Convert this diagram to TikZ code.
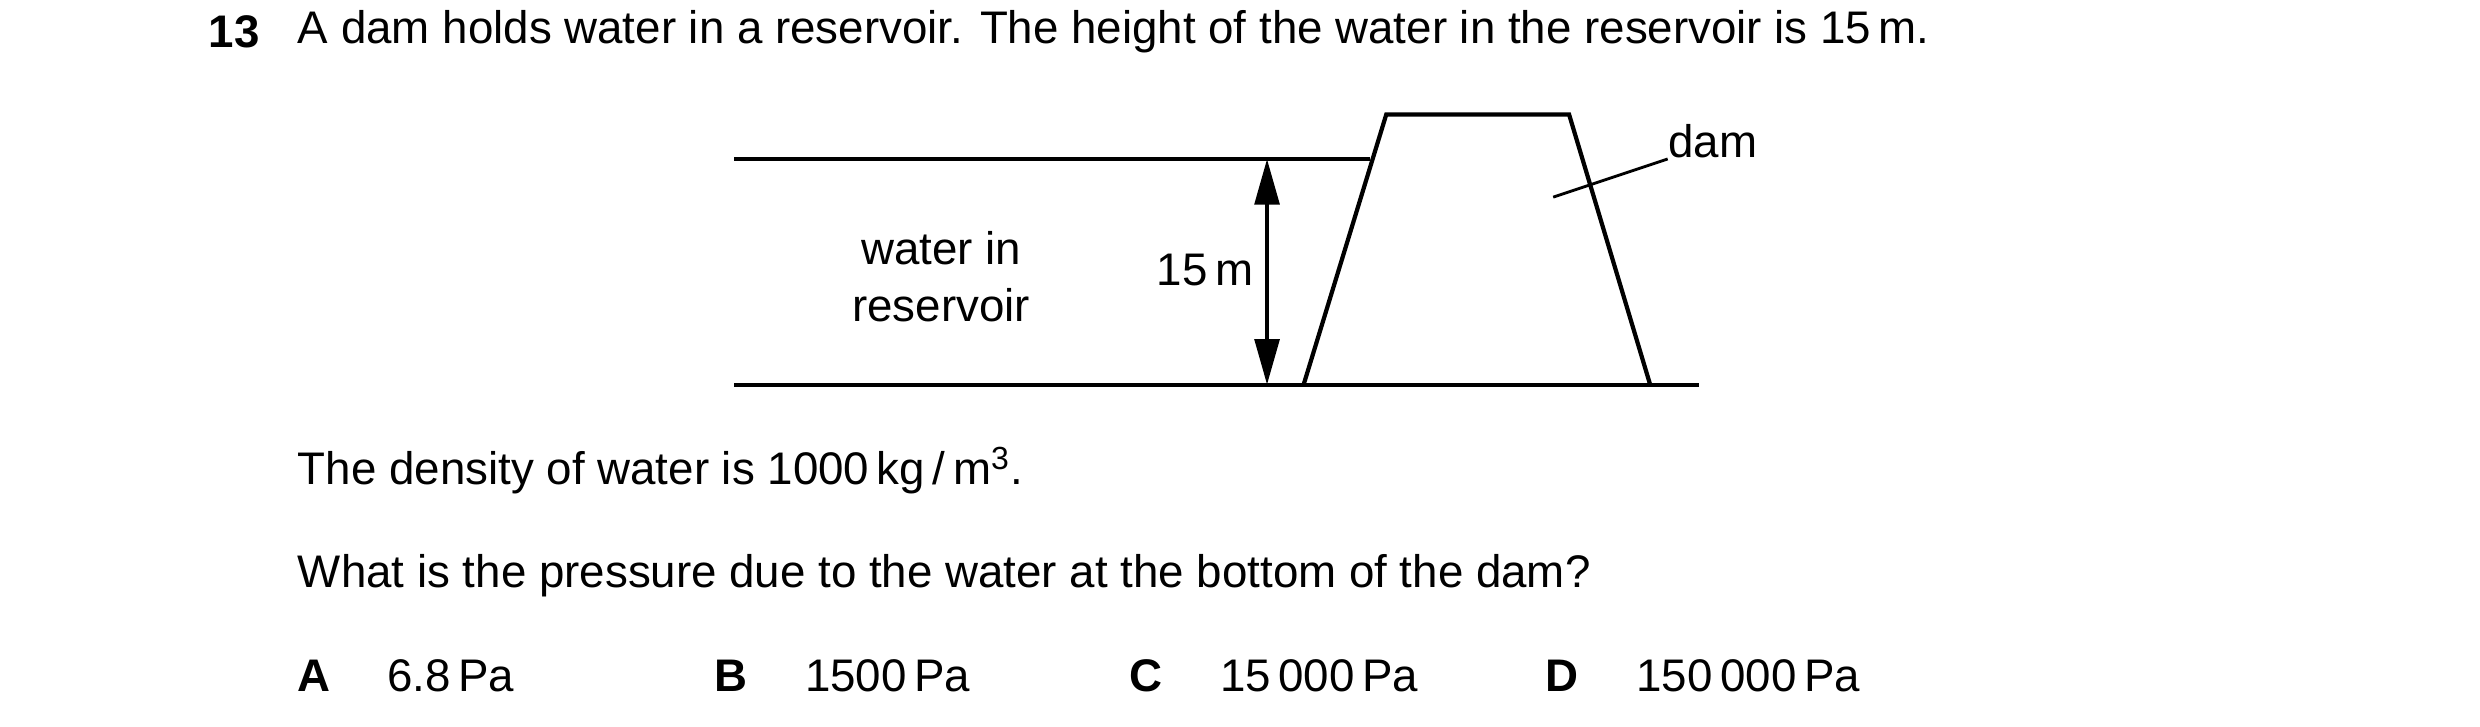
\documentclass[tikz,border=0pt]{standalone}
\usepackage{fontspec}
\setmainfont{Liberation Sans}
\usetikzlibrary{arrows.meta}
\begin{document}
\begin{tikzpicture}[x=0.015897cm,y=-0.015897cm,
  txt/.style={anchor=west,inner sep=0pt,font=\fontsize{13}{15}\selectfont},
  ln/.style={line width=1.2pt},
  lab/.style={inner sep=0pt,font=\fontsize{13}{15}\selectfont,align=center}]
\useasboundingbox (0,0) rectangle (1560,457.3);
\node[txt,font=\fontsize{13}{15}\selectfont\bfseries] (q) at (131,20) {13};
\node[txt] (t1) at (187,20) {A dam holds water in a reservoir. The height of the water in the reservoir is 15\,m.};
\coordinate (s1) at (462,100); \coordinate (s2) at (862,100);
\coordinate (g1) at (462,242); \coordinate (g2) at (1069,242);
\coordinate (d1) at (820,242); \coordinate (d2) at (872,72);
\coordinate (d3) at (987,72); \coordinate (d4) at (1038,242);
\draw[ln] (s1) -- (s2);
\draw[ln] (g1) -- (g2);
\draw[ln,line join=miter] (d1) -- (d2) -- (d3) -- (d4);
\coordinate (a1) at (797,100); \coordinate (a2) at (797,242);
\draw[line width=1.2pt,{Triangle[length=13pt,width=7pt]}-{Triangle[length=13pt,width=7pt]}] (a1) -- (a2);
\node[lab] (h) at (758,170) {15\,m};
\node[lab] (w) at (592,174) {water in\\[1pt]reservoir};
\coordinate (p1) at (977,124);
\node[lab,anchor=west] (dam) at (1049,89) {dam};
\draw[line width=0.8pt] (p1) -- (dam.south west);
\node[txt] (t2) at (187,296) {The density of water is 1000\,kg\,/\,m\textsuperscript{3}.};
\node[txt] (t3) at (187,362) {What is the pressure due to the water at the bottom of the dam?};
\node[txt,font=\fontsize{13}{15}\selectfont\bfseries] (A) at (187,425) {A};
\node[txt] (Av) at (243,425) {6.8\,Pa};
\node[txt,font=\fontsize{13}{15}\selectfont\bfseries] (B) at (449,425) {B};
\node[txt] (Bv) at (506,425) {1500\,Pa};
\node[txt,font=\fontsize{13}{15}\selectfont\bfseries] (C) at (710,425) {C};
\node[txt] (Cv) at (767,425) {15\,000\,Pa};
\node[txt,font=\fontsize{13}{15}\selectfont\bfseries] (D) at (972,425) {D};
\node[txt] (Dv) at (1029,425) {150\,000\,Pa};
\end{tikzpicture}
\end{document}
